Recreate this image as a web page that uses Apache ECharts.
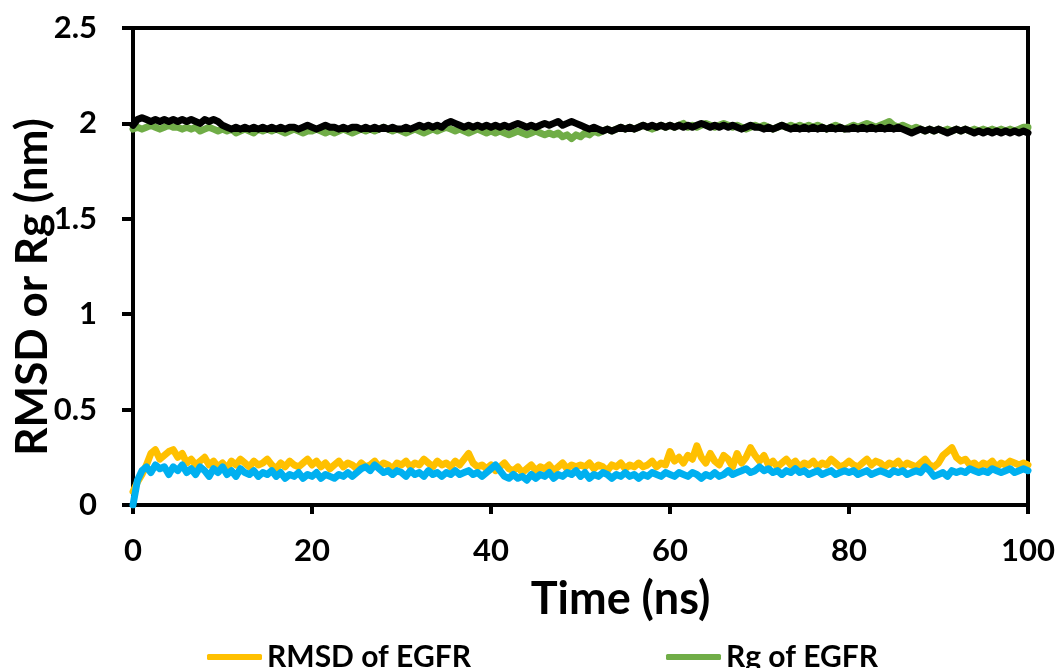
<!DOCTYPE html>
<html>
<head>
<meta charset="utf-8">
<script src="https://cdn.jsdelivr.net/npm/echarts@6/dist/echarts.min.js"></script>
<style>html,body{margin:0;padding:0;background:#fff}#c{width:1057px;height:668px}</style>
</head>
<body>
<div id="c"></div>
<script>
// Time step between samples (ns)
const STEP = 0.5;
const xTicks = [0, 20, 40, 60, 80, 100];
const yTicks = [0, 0.5, 1, 1.5, 2, 2.5];

const seriesNames = ['RMSD of EGFR', 'Rg of EGFR', 'RMSD of complex', 'Rg of complex'];

const rmsdEGFR = [
0.07,0.12,0.16,0.21,0.27,0.29,0.24,0.26,0.28,0.29,
0.25,0.27,0.22,0.24,0.21,0.23,0.25,0.21,0.23,0.20,
0.22,0.19,0.23,0.21,0.24,0.22,0.20,0.23,0.21,0.22,
0.24,0.21,0.19,0.22,0.20,0.23,0.21,0.20,0.22,0.24,
0.21,0.23,0.20,0.22,0.19,0.21,0.23,0.20,0.22,0.21,
0.19,0.22,0.20,0.21,0.23,0.20,0.22,0.21,0.19,0.22,
0.21,0.23,0.20,0.22,0.21,0.24,0.22,0.20,0.23,0.21,
0.22,0.20,0.23,0.21,0.24,0.27,0.22,0.20,0.21,0.19,
0.21,0.18,0.20,0.22,0.19,0.18,0.20,0.17,0.19,0.21,
0.18,0.20,0.19,0.21,0.18,0.20,0.22,0.19,0.21,0.20,
0.21,0.20,0.22,0.19,0.21,0.20,0.18,0.21,0.20,0.22,
0.19,0.21,0.20,0.22,0.20,0.21,0.23,0.20,0.22,0.21,
0.28,0.23,0.25,0.22,0.26,0.24,0.31,0.25,0.22,0.27,
0.23,0.21,0.26,0.24,0.20,0.27,0.22,0.25,0.30,0.26,
0.23,0.26,0.21,0.23,0.20,0.22,0.24,0.21,0.23,0.20,
0.22,0.21,0.23,0.20,0.22,0.21,0.24,0.22,0.20,0.21,
0.23,0.21,0.20,0.22,0.24,0.21,0.23,0.22,0.20,0.22,
0.21,0.23,0.20,0.22,0.21,0.20,0.22,0.24,0.21,0.20,
0.22,0.26,0.28,0.30,0.25,0.23,0.24,0.21,0.22,0.20,
0.22,0.21,0.23,0.20,0.22,0.21,0.23,0.22,0.21,0.22,
0.21];

const rmsdComplex = [
0.00,0.13,0.18,0.20,0.17,0.21,0.19,0.20,0.16,0.20,
0.18,0.21,0.17,0.19,0.16,0.20,0.18,0.15,0.19,0.17,
0.20,0.16,0.18,0.15,0.19,0.17,0.16,0.18,0.15,0.17,
0.16,0.18,0.15,0.17,0.14,0.16,0.15,0.17,0.14,0.16,
0.15,0.17,0.14,0.16,0.15,0.14,0.16,0.15,0.17,0.15,
0.17,0.19,0.20,0.18,0.21,0.19,0.17,0.18,0.16,0.18,
0.17,0.15,0.18,0.16,0.17,0.15,0.18,0.16,0.17,0.15,
0.17,0.16,0.18,0.16,0.17,0.18,0.16,0.17,0.15,0.17,
0.19,0.21,0.18,0.15,0.14,0.16,0.14,0.15,0.13,0.16,
0.14,0.16,0.15,0.17,0.14,0.16,0.15,0.17,0.16,0.18,
0.15,0.17,0.14,0.16,0.15,0.17,0.16,0.14,0.16,0.15,
0.17,0.15,0.16,0.14,0.16,0.15,0.17,0.16,0.15,0.17,
0.16,0.15,0.17,0.16,0.15,0.17,0.16,0.14,0.16,0.15,
0.17,0.15,0.16,0.18,0.16,0.17,0.18,0.19,0.17,0.18,
0.20,0.18,0.19,0.17,0.18,0.16,0.18,0.17,0.19,0.17,
0.18,0.16,0.17,0.18,0.16,0.17,0.18,0.16,0.17,0.18,
0.17,0.18,0.16,0.17,0.18,0.16,0.17,0.18,0.17,0.16,
0.18,0.17,0.18,0.16,0.17,0.18,0.17,0.20,0.18,0.15,
0.16,0.17,0.15,0.18,0.17,0.18,0.17,0.19,0.18,0.17,
0.18,0.17,0.19,0.18,0.17,0.18,0.19,0.17,0.18,0.19,
0.18];

const rgEGFR = [
1.97,1.98,1.97,1.98,1.99,1.98,1.97,1.98,1.99,1.98,
1.98,1.97,1.98,1.97,1.98,1.96,1.97,1.98,1.97,1.96,
1.97,1.96,1.97,1.95,1.96,1.97,1.96,1.95,1.97,1.96,
1.97,1.96,1.97,1.96,1.95,1.96,1.97,1.96,1.95,1.96,
1.96,1.97,1.96,1.95,1.96,1.95,1.96,1.97,1.96,1.95,
1.96,1.97,1.96,1.97,1.96,1.97,1.98,1.97,1.96,1.97,
1.96,1.95,1.96,1.97,1.96,1.95,1.96,1.97,1.96,1.97,
1.98,1.97,1.96,1.97,1.96,1.95,1.96,1.97,1.96,1.95,
1.96,1.95,1.96,1.95,1.94,1.95,1.96,1.95,1.94,1.95,
1.96,1.95,1.94,1.95,1.94,1.95,1.93,1.94,1.92,1.94,
1.93,1.95,1.94,1.96,1.95,1.96,1.97,1.96,1.97,1.98,
1.97,1.98,1.97,1.98,1.99,1.98,1.97,1.98,1.99,1.98,
1.99,1.98,1.99,2.00,1.98,1.99,1.98,1.99,2.00,1.99,
1.98,1.99,2.00,1.99,1.98,1.99,1.98,1.97,1.98,1.99,
1.98,1.99,1.98,1.97,1.98,1.99,1.98,1.99,1.98,1.99,
1.98,1.99,1.98,1.99,1.98,1.97,1.98,1.99,1.98,1.97,
1.98,1.99,1.98,1.99,2.00,1.99,1.98,1.99,2.00,2.01,
1.99,1.98,1.99,1.98,1.97,1.98,1.97,1.96,1.97,1.96,
1.97,1.96,1.97,1.96,1.97,1.96,1.97,1.96,1.97,1.96,
1.97,1.96,1.97,1.96,1.97,1.96,1.97,1.96,1.97,1.98,
1.98];

const rgComplex = [
1.99,2.02,2.03,2.02,2.01,2.02,2.01,2.02,2.01,2.02,
2.01,2.02,2.01,2.02,2.01,2.00,2.02,2.01,2.02,2.01,
1.99,1.98,1.97,1.98,1.97,1.98,1.97,1.98,1.97,1.98,
1.97,1.98,1.97,1.98,1.97,1.98,1.98,1.97,1.98,1.99,
1.98,1.97,1.98,1.99,1.98,1.98,1.97,1.98,1.97,1.98,
1.98,1.97,1.98,1.97,1.98,1.97,1.98,1.97,1.98,1.97,
1.97,1.98,1.97,1.98,1.99,1.98,1.99,1.98,1.99,1.98,
2.00,2.01,2.00,1.99,1.98,1.99,1.98,1.99,1.98,1.99,
1.98,1.99,1.98,1.99,1.98,1.99,2.00,1.99,1.98,1.99,
1.98,1.99,2.00,1.99,2.00,2.01,1.99,2.00,2.01,2.00,
1.99,1.98,1.97,1.98,1.97,1.96,1.97,1.96,1.97,1.98,
1.97,1.98,1.97,1.98,1.99,1.98,1.99,1.98,1.99,1.98,
1.99,1.98,1.99,1.98,1.99,1.98,1.99,2.00,1.99,1.98,
1.99,1.98,1.99,1.98,1.99,1.98,1.97,1.98,1.99,1.98,
1.98,1.97,1.98,1.97,1.98,1.99,1.98,1.97,1.98,1.97,
1.98,1.97,1.98,1.97,1.98,1.97,1.98,1.97,1.98,1.97,
1.97,1.98,1.97,1.98,1.97,1.98,1.97,1.98,1.97,1.98,
1.97,1.98,1.97,1.96,1.95,1.96,1.97,1.96,1.97,1.96,
1.97,1.96,1.95,1.96,1.97,1.96,1.97,1.96,1.95,1.96,
1.95,1.96,1.95,1.96,1.95,1.96,1.95,1.96,1.95,1.96,
1.95];

const colors = ['#FFC000', '#70AD47', '#00B0F0', '#000000'];
const FONT = 'Lato';

function pairs(arr) { return arr.map((v, i) => [i * STEP, v]); }

const seriesData = [rmsdEGFR, rgEGFR, rmsdComplex, rgComplex];

const legendCommon = {
  top: 637, itemWidth: 55, itemHeight: 6, itemGap: 4, icon: 'roundRect',
  textStyle: { fontFamily: FONT, fontWeight: 'bold', fontSize: 30, color: '#000' }
};

const chart = echarts.init(document.getElementById('c'), null, { renderer: 'canvas' });
chart.setOption({
  animation: false,
  backgroundColor: '#ffffff',
  textStyle: { fontFamily: FONT, fontWeight: 'bold', color: '#000' },
  grid: {
    left: 133, right: 29, top: 28, bottom: 163,
    containLabel: false, outerBoundsMode: 'none',
    show: true, borderColor: '#000', borderWidth: 4, backgroundColor: 'transparent'
  },
  legend: [
    Object.assign({ data: [seriesNames[0]], left: 202 }, legendCommon),
    Object.assign({ data: [seriesNames[1]], left: 661 }, legendCommon)
  ],
  xAxis: {
    type: 'value', min: xTicks[0], max: xTicks[xTicks.length - 1], interval: 20,
    name: 'Time (ns)', nameLocation: 'middle', nameGap: 72, nameMoveOverlap: false,
    nameTextStyle: { fontFamily: FONT, fontWeight: 'bold', fontSize: 45, color: '#000', padding: [0, 0, 0, 80] },
    axisLine: { show: true, onZero: false, lineStyle: { color: '#000', width: 4 } },
    axisTick: { show: true, inside: false, length: 9, lineStyle: { color: '#000', width: 4 } },
    axisLabel: { show: true, margin: 30, fontFamily: FONT, fontWeight: 'bold', fontSize: 31, color: '#000' },
    splitLine: { show: false }
  },
  yAxis: {
    type: 'value', min: yTicks[0], max: yTicks[yTicks.length - 1], interval: 0.5,
    name: 'RMSD or Rg (nm)', nameLocation: 'middle', nameGap: 78, nameMoveOverlap: false,
    nameTextStyle: { fontFamily: FONT, fontWeight: 'bold', fontSize: 44, color: '#000', padding: [0, 41, 0, 0] },
    axisLine: { show: true, onZero: false, lineStyle: { color: '#000', width: 4 } },
    axisTick: { show: true, inside: false, length: 11, lineStyle: { color: '#000', width: 4 } },
    axisLabel: { show: true, margin: 36, fontFamily: FONT, fontWeight: 'bold', fontSize: 31, color: '#000' },
    splitLine: { show: false }
  },
  series: seriesData.map((d, k) => ({
    name: seriesNames[k],
    type: 'line',
    data: pairs(d),
    showSymbol: false,
    symbol: 'none',
    smooth: false,
    color: colors[k],
    lineStyle: { color: colors[k], width: 7, join: 'round', cap: 'round' },
    z: 2 + k
  }))
});
</script>
</body>
</html>
